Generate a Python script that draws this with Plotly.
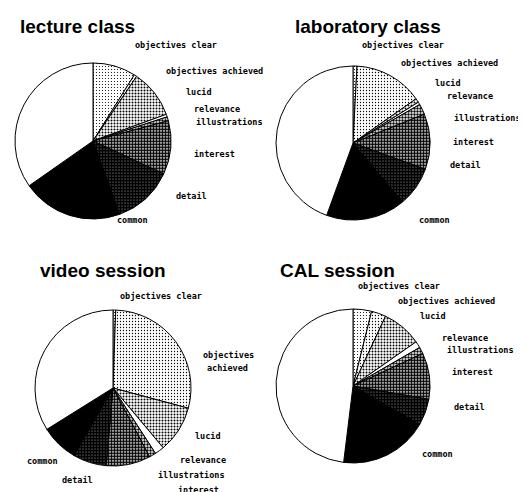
import plotly.graph_objects as go

W, H = 526, 492
categories = ["objectives clear", "objectives achieved", "lucid", "relevance",
              "illustrations", "interest", "detail", "common", "other"]
# slice sizes in degrees of the circle
lecture = [32, 2, 36, 2, 3, 40, 45, 75, 125]
laboratory = [3, 52, 3, 2, 8, 42, 30, 60, 160]
video = [2, 103, 35, 7, 5, 33, 25, 28, 122]
cal = [14, 11, 30, 5, 5, 35, 20, 67, 173]

solidity = [0.12, 0.15, 0.35, 0.05, 0.5, 0.7, 0.85, 1.0, 0.0]
shapes = [".", ".", ".", "", ".", ".", ".", "", ""]
colors = ["white"] * 7 + ["black", "white"]

pies = [
    ("lecture class", lecture, 85, 133, 78, 10, 18),
    ("laboratory class", laboratory, 345, 135, 77, 285, 18),
    ("video session", video, 105, 380, 78, 30, 262),
    ("CAL session", cal, 345, 378, 77, 270, 262),
]
labels = [
    [("objectives clear", 125, 37), ("objectives achieved", 156, 63), ("lucid", 176, 84),
     ("relevance", 184, 101), ("illustrations", 186, 114), ("interest", 184, 146),
     ("detail", 166, 188), ("common", 107, 212)],
    [("objectives clear", 352, 37), ("objectives achieved", 391, 55), ("lucid", 425, 75),
     ("relevance", 437, 88), ("illustrations", 444, 110), ("interest", 443, 134),
     ("detail", 440, 157), ("common", 409, 212)],
    [("objectives clear", 110, 288), ("objectives", 193, 347), ("achieved", 197, 360),
     ("lucid", 185, 428), ("relevance", 170, 452), ("illustrations", 148, 467),
     ("interest", 168, 482), ("common", 17, 453), ("detail", 52, 472)],
    [("objectives clear", 348, 278), ("objectives achieved", 388, 293), ("lucid", 410, 308),
     ("relevance", 432, 330), ("illustrations", 437, 342), ("interest", 442, 364),
     ("detail", 444, 399), ("common", 412, 446)],
]

fig = go.Figure()
ann = []
for (title, vals, cx, cy, r, tx, ty), labs in zip(pies, labels):
    fig.add_trace(go.Pie(
        labels=categories, values=vals, sort=False, direction="clockwise", rotation=0,
        textinfo="none", hoverinfo="label+value", showlegend=False,
        domain=dict(x=[(cx - r) / W, (cx + r) / W], y=[1 - (cy + r) / H, 1 - (cy - r) / H]),
        marker=dict(colors=colors, line=dict(color="black", width=1),
                    pattern=dict(shape=shapes, solidity=solidity, fgcolor="black",
                                 bgcolor="white", size=3)),
    ))
    ann.append(dict(text="<b>" + title + "</b>", x=tx / W, y=1 - ty / H, xref="paper", yref="paper",
                    xanchor="left", yanchor="middle", showarrow=False,
                    font=dict(size=19, family="Liberation Sans", color="black")))
    for t, x, y in labs:
        ann.append(dict(text="<b>" + t + "</b>", x=x / W, y=1 - y / H, xref="paper", yref="paper",
                        xanchor="left", yanchor="middle", showarrow=False,
                        font=dict(size=8.5, family="DejaVu Sans Mono", color="black")))

fig.update_layout(width=W, height=H, margin=dict(l=0, r=0, t=0, b=0),
                  paper_bgcolor="white", annotations=ann)
fig.write_html("out.html")
